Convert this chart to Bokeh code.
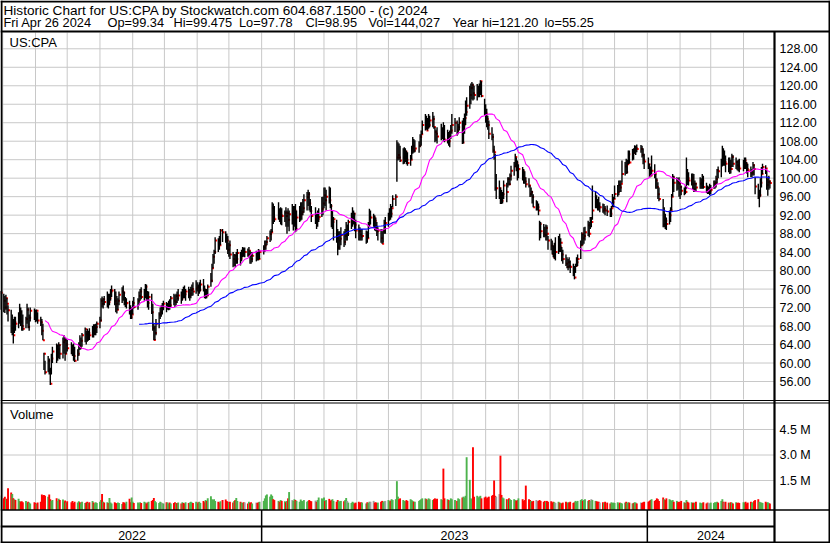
import numpy as np
import pandas as pd
from bokeh.plotting import figure
from bokeh.models import Range1d, ColumnDataSource
from bokeh.core.properties import value
from bokeh.embed import file_html
from bokeh.resources import INLINE

# ---------------- data ----------------
FIRST_DAY = "2022-04-29"
LAST_DAY = "2024-04-26"
HOLIDAYS = ["2022-05-30", "2022-06-20", "2022-07-04", "2022-09-05", "2022-11-24",
            "2022-12-26", "2023-01-02", "2023-01-16", "2023-02-20", "2023-04-07",
            "2023-05-29", "2023-06-19", "2023-07-04", "2023-09-04", "2023-11-23",
            "2023-12-25", "2024-01-01", "2024-01-15", "2024-02-19", "2024-03-29"]

HIGH = [
    75.6, 75.0, 74.5, 74.8, 74.0, 72.5, 71.5, 70.5, 69.5, 70.0,
    70.0, 71.0, 72.8, 72.0, 71.4, 70.5, 70.0, 72.8, 72.0, 70.5,
    72.0, 71.8, 71.5, 71.6, 71.0, 70.0, 69.5, 68.5, 62.2, 60.5,
    61.5, 61.0, 59.0, 62.0, 63.5, 64.2, 64.0, 64.5, 64.0, 65.5,
    66.0, 65.5, 65.3, 65.0, 64.5, 64.0, 64.2, 63.5, 63.0, 64.5,
    66.0, 65.5, 66.5, 67.7, 67.0, 67.4, 67.0, 67.5, 68.0, 68.4,
    68.4, 68.5, 69.0, 70.0, 74.0, 74.4, 74.0, 74.5, 75.5, 75.0,
    75.0, 76.0, 76.8, 76.0, 75.5, 74.5, 74.0, 75.5, 76.4, 76.8,
    75.5, 74.3, 74.0, 73.5, 72.5, 72.0, 73.5, 74.3, 74.0, 75.5,
    76.0, 76.4, 76.0, 77.1, 77.0, 75.6, 75.5, 75.0, 72.8, 68.5,
    68.0, 69.5, 71.0, 72.0, 72.5, 73.0, 73.5, 73.2, 73.0, 73.5,
    73.8, 74.5, 75.0, 74.8, 75.0, 75.5, 76.0, 75.5, 76.0, 76.5,
    76.8, 76.0, 76.5, 76.0, 76.5, 77.0, 77.5, 77.9, 77.5, 77.0,
    77.5, 78.0, 78.2, 76.8, 76.0, 76.0, 77.0, 79.5, 81.5, 83.6,
    84.5, 87.2, 87.0, 87.5, 89.0, 89.0, 88.5, 88.0, 87.5, 86.0,
    86.5, 84.0, 83.6, 83.5, 84.0, 84.7, 84.0, 84.5, 85.1, 85.0,
    85.0, 84.8, 85.1, 84.3, 84.0, 84.0, 84.3, 84.0, 84.7, 84.5,
    85.5, 86.5, 86.5, 87.5, 88.7, 89.0, 94.8, 94.5, 94.0, 94.8,
    93.5, 93.7, 93.5, 93.0, 93.7, 93.0, 93.5, 93.0, 94.4, 94.0,
    94.0, 94.4, 93.0, 94.0, 94.8, 94.8, 95.5, 96.5, 97.0, 97.5,
    97.0, 95.5, 94.0, 93.7, 92.5, 93.0, 93.5, 95.9, 96.0, 98.0,
    98.0, 97.5, 98.2, 98.0, 94.4, 93.0, 91.6, 91.0, 89.0, 88.5,
    88.5, 89.4, 88.5, 89.0, 90.5, 90.0, 91.0, 92.5, 93.7, 93.0,
    92.5, 91.0, 90.0, 89.4, 89.0, 89.0, 88.7, 88.5, 90.5, 93.4,
    93.0, 92.3, 92.0, 91.5, 90.5, 89.4, 89.0, 88.5, 89.0, 91.0,
    91.6, 92.5, 93.5, 94.4, 94.0, 96.3, 96.5, 108.2, 107.8, 107.5,
    107.0, 106.5, 106.7, 106.5, 106.0, 105.6, 105.0, 107.0, 108.9, 108.5,
    108.2, 108.0, 109.5, 110.3, 112.5, 113.9, 113.5, 113.0, 113.9, 113.5,
    114.3, 113.5, 111.0, 110.5, 111.0, 111.8, 111.0, 112.1, 111.5, 110.5,
    110.0, 110.3, 111.5, 113.9, 113.0, 112.5, 111.8, 113.2, 112.5, 113.0,
    114.0, 116.8, 117.5, 120.0, 120.5, 120.8, 120.5, 120.0, 120.4, 120.0,
    120.5, 121.2, 121.0, 117.2, 116.0, 115.0, 113.5, 112.5, 111.0, 109.6,
    107.0, 105.3, 100.9, 99.5, 98.0, 97.5, 97.0, 99.5, 99.0, 100.2,
    100.2, 101.0, 102.7, 103.5, 105.3, 104.5, 103.8, 103.0, 102.4, 102.0,
    101.5, 100.2, 100.0, 98.4, 98.0, 97.3, 96.5, 95.2, 95.0, 94.5,
    90.8, 90.5, 90.1, 89.5, 90.0, 89.8, 87.5, 86.9, 86.5, 85.5,
    86.0, 87.2, 87.5, 88.0, 87.0, 85.1, 84.5, 83.5, 82.9, 82.5,
    82.9, 82.2, 81.5, 81.0, 81.5, 82.9, 83.5, 86.5, 88.3, 88.0,
    89.4, 89.5, 90.8, 90.5, 91.6, 91.6, 98.4, 97.0, 96.3, 95.5,
    96.0, 94.8, 94.5, 94.4, 94.0, 94.1, 93.5, 94.0, 96.6, 96.0,
    98.4, 98.5, 99.5, 99.5, 99.5, 103.8, 103.5, 104.2, 104.0, 106.0,
    106.0, 106.3, 106.5, 107.1, 107.0, 107.3, 107.2, 107.0, 106.5, 105.3,
    104.5, 103.1, 102.5, 104.9, 103.0, 100.9, 100.0, 99.1, 98.0, 95.5,
    93.7, 92.3, 91.5, 93.0, 93.7, 96.6, 100.9, 100.5, 100.2, 100.0,
    100.2, 99.5, 98.4, 98.0, 98.4, 104.5, 102.0, 101.3, 101.0, 101.0,
    100.9, 99.5, 99.0, 100.2, 100.0, 100.9, 100.5, 99.0, 98.4, 98.2,
    98.8, 98.5, 99.5, 99.5, 100.5, 102.0, 102.5, 104.2, 107.0, 106.5,
    106.0, 104.9, 104.5, 104.5, 104.0, 105.3, 105.0, 104.5, 103.8, 104.0,
    104.2, 104.0, 104.5, 104.5, 103.5, 103.1, 102.5, 102.0, 103.5, 103.0,
    100.2, 98.8, 97.5, 100.0, 102.4, 103.1, 102.8, 101.7, 100.0, 100.5,
    99.475]

LOW = [
    71.5, 71.0, 70.8, 71.5, 70.5, 69.0, 66.5, 66.0, 64.2, 66.5,
    67.0, 67.5, 68.5, 68.0, 67.0, 67.0, 67.5, 68.5, 67.5, 67.0,
    69.0, 69.3, 68.8, 69.0, 68.5, 68.0, 66.0, 64.9, 58.5, 57.5,
    58.0, 57.5, 55.25, 57.5, 60.0, 60.0, 60.5, 61.0, 60.8, 61.0,
    62.0, 60.5, 62.0, 62.5, 61.9, 61.5, 60.5, 60.2, 60.5, 61.5,
    62.8, 63.0, 63.5, 64.5, 64.0, 64.6, 64.8, 65.0, 65.5, 65.5,
    66.0, 66.0, 66.5, 67.5, 69.0, 72.0, 71.8, 72.5, 72.0, 71.8,
    72.5, 73.5, 74.3, 72.5, 71.0, 70.7, 71.5, 72.5, 73.0, 73.5,
    72.5, 72.1, 71.8, 70.5, 69.5, 69.5, 70.5, 71.8, 71.5, 72.5,
    73.5, 73.8, 73.5, 74.0, 73.5, 72.0, 71.5, 70.6, 67.0, 64.9,
    65.0, 66.0, 67.5, 69.5, 70.0, 70.5, 71.4, 71.0, 71.5, 71.4,
    71.5, 72.0, 72.5, 72.1, 72.5, 73.0, 73.5, 72.8, 73.5, 74.0,
    74.0, 73.5, 74.0, 73.5, 74.0, 74.5, 74.6, 75.0, 75.5, 74.5,
    75.0, 75.5, 75.5, 74.0, 73.9, 74.0, 74.5, 76.5, 77.5, 80.5,
    81.5, 83.6, 84.0, 84.5, 85.5, 86.2, 86.0, 84.5, 83.6, 83.0,
    82.5, 80.7, 81.0, 80.7, 81.5, 81.5, 81.1, 82.0, 82.9, 83.0,
    82.9, 83.0, 83.0, 81.5, 81.5, 81.8, 82.0, 82.2, 82.2, 82.5,
    83.5, 84.0, 84.5, 85.5, 86.2, 86.5, 88.3, 90.1, 90.5, 91.0,
    90.5, 90.0, 89.8, 90.5, 89.5, 88.0, 89.5, 88.5, 90.0, 88.7,
    89.5, 88.3, 88.5, 90.5, 90.8, 91.0, 92.0, 92.5, 93.0, 94.0,
    93.0, 92.6, 90.5, 90.1, 89.0, 89.5, 90.5, 91.6, 92.0, 93.5,
    94.0, 93.0, 94.5, 93.5, 89.4, 89.0, 86.5, 86.0, 83.3, 84.5,
    84.5, 85.5, 85.1, 85.5, 86.5, 86.5, 87.5, 89.0, 89.5, 90.0,
    88.5, 87.0, 86.5, 86.5, 86.5, 86.5, 85.8, 86.0, 87.0, 89.4,
    90.0, 89.5, 88.7, 88.5, 87.5, 86.5, 86.0, 85.8, 86.0, 88.0,
    88.0, 89.5, 90.8, 91.0, 91.5, 93.7, 94.0, 99.2, 103.8, 104.0,
    103.5, 103.0, 103.1, 103.5, 103.0, 102.7, 102.7, 104.0, 105.3, 105.5,
    105.6, 105.5, 106.7, 107.0, 109.5, 110.3, 110.5, 110.3, 110.7, 111.0,
    111.0, 110.7, 107.8, 108.0, 107.5, 108.2, 108.5, 108.0, 107.8, 107.5,
    107.0, 106.7, 108.5, 109.6, 110.0, 109.2, 109.5, 110.3, 107.4, 107.5,
    109.6, 111.5, 113.5, 115.0, 116.0, 117.0, 116.8, 117.0, 116.8, 117.5,
    117.5, 118.0, 117.5, 113.6, 112.0, 111.0, 110.5, 108.5, 108.2, 105.5,
    104.0, 97.3, 95.5, 95.5, 94.4, 94.4, 94.5, 95.5, 94.8, 98.0,
    98.4, 98.5, 99.5, 100.5, 102.4, 101.5, 99.5, 100.0, 99.5, 98.8,
    98.8, 98.0, 98.0, 95.9, 96.0, 94.5, 93.7, 93.0, 93.0, 92.0,
    86.5, 87.0, 87.2, 87.2, 86.5, 86.5, 84.5, 84.4, 83.5, 82.9,
    82.5, 82.2, 83.6, 84.0, 84.0, 82.0, 81.5, 81.0, 80.5, 80.1,
    80.5, 79.5, 78.8, 78.1, 79.5, 80.8, 81.0, 82.5, 85.4, 85.5,
    85.8, 86.5, 87.5, 87.2, 89.0, 89.4, 91.0, 93.5, 93.5, 93.0,
    93.0, 92.6, 92.5, 92.3, 92.0, 91.8, 91.6, 91.6, 93.7, 93.7,
    95.5, 96.0, 96.3, 97.0, 97.0, 99.0, 100.6, 100.9, 101.0, 103.0,
    103.1, 103.8, 104.0, 105.3, 105.0, 105.6, 105.5, 104.5, 103.0, 102.0,
    102.0, 100.2, 100.2, 100.6, 100.0, 97.7, 97.7, 95.5, 95.0, 89.4,
    89.4, 89.0, 88.8, 90.0, 90.5, 93.0, 96.0, 97.0, 97.3, 97.5,
    96.0, 95.5, 96.3, 96.3, 96.5, 97.7, 98.5, 98.4, 98.4, 97.5,
    97.0, 97.0, 97.2, 97.7, 97.7, 97.7, 97.7, 96.8, 96.6, 96.6,
    96.3, 96.5, 97.7, 97.7, 98.0, 98.8, 100.0, 100.2, 102.5, 102.7,
    102.7, 101.3, 101.3, 100.9, 101.0, 102.4, 102.4, 102.0, 101.7, 101.5,
    101.3, 101.5, 102.0, 102.0, 101.0, 100.2, 100.2, 100.2, 100.6, 100.6,
    96.5, 95.5, 93.7, 96.0, 98.0, 100.9, 100.9, 97.5, 96.2, 97.5,
    97.78]

CLOSE = [
    75.2, 73.5, 72.0, 74.0, 72.8, 71.4, 67.5, 68.5, 66.0, 68.8,
    68.5, 70.2, 71.0, 69.0, 68.0, 67.4, 69.5, 71.5, 67.8, 69.8,
    71.3, 70.6, 70.0, 71.3, 69.2, 68.8, 67.0, 64.9, 62.0, 58.0,
    60.5, 58.5, 55.5, 61.0, 62.5, 62.3, 63.0, 63.9, 62.0, 64.5,
    64.9, 62.0, 64.0, 63.2, 62.5, 62.0, 61.5, 60.5, 62.0, 63.8,
    63.3, 64.8, 66.0, 67.3, 66.2, 65.5, 66.5, 66.0, 67.5, 67.0,
    67.5, 67.8, 68.5, 69.2, 73.5, 72.8, 73.8, 73.2, 74.5, 73.2,
    74.0, 75.5, 75.7, 73.5, 72.8, 71.5, 73.5, 74.8, 75.5, 75.2,
    73.0, 72.8, 73.0, 71.0, 69.9, 70.5, 73.0, 72.1, 73.5, 74.5,
    75.5, 74.3, 75.0, 76.5, 74.0, 73.0, 74.3, 71.0, 67.5, 65.0,
    66.5, 68.5, 70.5, 71.0, 72.0, 72.0, 72.8, 72.0, 72.4, 73.0,
    72.5, 74.0, 73.5, 73.2, 74.5, 74.0, 74.6, 73.9, 75.5, 75.0,
    74.9, 75.5, 74.5, 75.0, 75.8, 76.0, 75.5, 76.1, 76.4, 75.5,
    75.8, 77.0, 76.0, 74.5, 75.0, 74.6, 76.5, 77.8, 80.5, 83.0,
    84.0, 86.5, 86.2, 85.5, 88.7, 88.3, 87.0, 86.5, 84.5, 85.5,
    83.5, 82.5, 83.3, 82.2, 82.5, 83.8, 82.6, 83.5, 84.3, 84.0,
    84.0, 83.5, 84.3, 83.2, 82.5, 83.2, 83.2, 83.0, 82.5, 84.0,
    85.0, 85.5, 86.2, 87.0, 87.9, 88.3, 93.5, 91.5, 91.1, 92.0,
    91.5, 92.0, 91.8, 92.5, 91.8, 92.4, 91.0, 92.2, 92.2, 92.7,
    93.0, 89.0, 91.5, 92.0, 92.2, 92.7, 93.5, 95.2, 95.9, 96.5,
    94.5, 92.9, 91.8, 91.8, 91.0, 91.2, 91.6, 93.4, 94.5, 96.3,
    95.2, 96.0, 95.2, 94.0, 89.8, 90.5, 91.1, 87.0, 85.0, 86.5,
    86.9, 87.7, 86.2, 87.5, 87.9, 87.9, 90.5, 90.8, 92.0, 92.3,
    89.9, 88.7, 88.5, 87.8, 87.4, 87.5, 88.0, 87.0, 90.0, 91.5,
    91.5, 91.5, 90.8, 89.5, 88.5, 88.7, 87.0, 85.8, 88.5, 90.3,
    90.3, 91.5, 93.2, 92.3, 93.5, 95.5, 96.0, 104.5, 105.0, 104.5,
    103.8, 104.5, 105.3, 105.7, 104.0, 103.3, 104.0, 106.5, 107.0, 106.0,
    106.4, 107.0, 108.9, 109.5, 111.5, 112.8, 110.3, 111.1, 111.5, 112.5,
    112.8, 111.1, 110.0, 109.6, 109.0, 109.2, 110.0, 108.5, 108.2, 109.0,
    108.0, 110.0, 110.3, 111.5, 112.0, 110.3, 111.0, 112.0, 107.7, 111.5,
    113.0, 114.3, 115.7, 118.0, 119.5, 120.1, 118.4, 118.0, 118.4, 118.8,
    119.0, 121.0, 117.8, 114.7, 114.0, 112.8, 111.5, 109.6, 108.9, 106.0,
    105.6, 97.8, 97.8, 97.8, 95.5, 95.1, 96.5, 98.4, 97.0, 99.8,
    98.7, 100.5, 101.6, 102.5, 104.6, 103.3, 101.9, 102.0, 101.5, 100.0,
    99.3, 98.7, 98.4, 96.6, 97.0, 95.9, 93.7, 93.7, 93.7, 93.0,
    90.1, 88.5, 88.0, 87.7, 89.2, 88.0, 86.5, 85.4, 83.6, 82.9,
    84.0, 84.0, 85.6, 85.2, 86.0, 83.5, 82.5, 81.5, 80.8, 81.8,
    81.0, 80.8, 79.7, 78.5, 81.0, 81.8, 82.5, 85.5, 88.0, 87.0,
    87.5, 88.3, 89.8, 88.0, 90.5, 90.5, 93.0, 94.8, 94.4, 94.0,
    93.7, 93.7, 93.0, 93.4, 93.0, 92.8, 92.3, 93.5, 94.8, 95.5,
    96.6, 97.0, 98.5, 98.0, 98.8, 100.9, 102.5, 101.3, 103.0, 105.2,
    103.4, 105.9, 105.5, 105.9, 106.5, 106.3, 106.3, 105.0, 104.0, 103.6,
    103.0, 100.9, 100.6, 101.6, 101.0, 99.5, 98.1, 96.5, 95.5, 90.0,
    91.0, 90.8, 90.1, 92.0, 93.0, 96.0, 100.2, 99.0, 99.5, 99.0,
    98.8, 98.1, 97.3, 97.5, 97.0, 100.2, 100.0, 99.5, 100.0, 98.8,
    97.7, 98.8, 98.0, 98.8, 99.0, 99.5, 98.1, 97.5, 97.3, 97.3,
    97.3, 97.5, 98.8, 99.0, 99.8, 101.7, 101.5, 103.1, 104.5, 103.5,
    103.5, 103.1, 102.1, 102.5, 102.0, 104.6, 103.1, 103.5, 102.8, 102.5,
    102.1, 103.0, 103.8, 103.1, 102.0, 101.7, 101.0, 101.2, 102.8, 102.0,
    98.2, 96.0, 96.3, 99.0, 100.9, 102.4, 102.1, 98.5, 99.1, 99.34,
    98.95]

VOLUME_M = [
    0.62, 0.45, 0.55, 0.40, 0.43, 1.05, 0.80, 0.70, 0.45, 0.40,
    0.35, 0.42, 0.30, 0.25, 0.28, 0.22, 0.30, 0.18, 0.25, 0.20,
    0.15, 0.22, 0.18, 0.12, 0.20, 0.25, 0.68, 0.62, 0.65, 0.60,
    0.55, 0.68, 0.40, 0.30, 0.35, 0.45, 0.30, 0.42, 0.35, 0.38,
    0.25, 0.32, 0.20, 0.28, 0.22, 0.30, 0.18, 0.25, 0.20, 0.28,
    0.22, 0.15, 0.25, 0.18, 0.20, 0.25, 0.18, 0.22, 0.30, 0.20,
    0.15, 0.22, 0.18, 0.25, 0.35, 0.70, 0.25, 0.20, 0.22, 0.18,
    0.47, 0.20, 0.15, 0.22, 0.18, 0.15, 0.20, 0.18, 0.12, 0.22,
    0.20, 0.15, 0.25, 0.43, 0.22, 0.50, 0.25, 0.18, 0.20, 0.15,
    0.22, 0.18, 0.25, 0.20, 0.15, 0.20, 0.25, 0.30, 0.35, 0.47,
    0.30, 0.22, 0.18, 0.25, 0.20, 0.18, 0.15, 0.22, 0.20, 0.15,
    0.20, 0.15, 0.18, 0.22, 0.15, 0.18, 0.20, 0.15, 0.22, 0.18,
    0.15, 0.22, 0.18, 0.20, 0.25, 0.20, 0.18, 0.25, 0.15, 0.22,
    0.25, 0.18, 0.30, 0.22, 0.35, 0.30, 0.45, 0.57, 0.40, 0.35,
    0.40, 0.30, 0.25, 0.20, 0.28, 0.35, 0.38, 0.30, 0.25, 0.20,
    0.25, 0.20, 0.30, 0.35, 0.47, 0.30, 0.25, 0.20, 0.18, 0.22,
    0.20, 0.15, 0.25, 0.18, 0.22, 0.15, 0.20, 0.18, 0.22, 0.25,
    0.30, 0.45, 0.62, 0.68, 0.55, 0.68, 0.60, 0.40, 0.35, 0.30,
    0.25, 0.35, 0.30, 0.28, 0.22, 0.30, 0.45, 0.82, 0.35, 0.30,
    0.40, 0.35, 0.30, 0.25, 0.38, 0.30, 0.28, 0.35, 0.25, 0.30,
    0.35, 0.30, 0.28, 0.32, 0.25, 0.35, 0.50, 0.45, 0.40, 0.50,
    0.30, 0.35, 0.42, 0.30, 0.35, 0.40, 0.30, 0.25, 0.35, 0.30,
    0.25, 0.30, 0.28, 0.35, 0.47, 0.30, 0.20, 0.18, 0.25, 0.20,
    0.15, 0.20, 0.25, 0.18, 0.22, 0.20, 0.15, 0.22, 0.18, 0.25,
    0.25, 0.30, 0.20, 0.22, 0.18, 0.20, 0.25, 0.30, 0.22, 0.28,
    0.30, 0.35, 0.28, 0.32, 0.40, 0.35, 0.40, 1.46, 0.55, 0.40,
    0.45, 0.35, 0.30, 0.28, 0.35, 0.30, 0.40, 0.35, 0.30, 0.25,
    0.25, 0.30, 0.35, 0.40, 0.45, 0.45, 0.40, 0.35, 0.45, 0.40,
    0.35, 0.40, 0.45, 0.38, 0.42, 0.40, 0.35, 2.20, 0.45, 0.40,
    0.35, 0.30, 0.45, 0.40, 0.35, 0.30, 0.45, 0.40, 0.50, 0.55,
    0.50, 0.60, 2.87, 1.54, 0.45, 0.40, 3.45, 0.55, 0.60, 0.50,
    0.55, 0.60, 0.45, 0.50, 0.55, 0.45, 0.50, 0.55, 0.60, 0.65,
    1.50, 0.60, 0.55, 0.70, 2.96, 0.65, 0.50, 0.45, 0.40, 0.35,
    0.45, 0.40, 0.35, 0.40, 0.35, 0.30, 0.35, 0.45, 0.40, 0.30,
    0.35, 1.20, 0.40, 0.35, 0.30, 0.25, 0.30, 0.35, 0.28, 0.30,
    0.35, 0.30, 0.25, 0.30, 0.22, 0.30, 0.25, 0.28, 0.20, 0.25,
    0.22, 0.18, 0.25, 0.20, 0.18, 0.15, 0.20, 0.25, 0.18, 0.22,
    0.20, 0.25, 0.18, 0.22, 0.30, 0.25, 0.30, 0.35, 0.40, 0.30,
    0.35, 0.40, 0.30, 0.35, 0.30, 0.40, 0.35, 0.30, 0.28, 0.25,
    0.25, 0.20, 0.22, 0.18, 0.25, 0.20, 0.15, 0.22, 0.18, 0.20,
    0.18, 0.22, 0.15, 0.20, 0.18, 0.15, 0.20, 0.25, 0.18, 0.22,
    0.20, 0.15, 0.18, 0.22, 0.20, 0.15, 0.20, 0.18, 0.22, 0.25,
    0.25, 0.30, 0.35, 0.40, 0.30, 0.35, 0.45, 0.40, 0.30, 0.50,
    0.40, 0.35, 0.45, 0.40, 0.35, 0.30, 0.35, 0.25, 0.30, 0.22,
    0.25, 0.20, 0.30, 0.22, 0.18, 0.35, 0.25, 0.20, 0.22, 0.18,
    0.20, 0.18, 0.25, 0.20, 0.15, 0.18, 0.22, 0.15, 0.20, 0.18,
    0.15, 0.20, 0.18, 0.22, 0.20, 0.25, 0.20, 0.30, 0.40, 0.25,
    0.22, 0.25, 0.20, 0.18, 0.22, 0.20, 0.15, 0.22, 0.18, 0.20,
    0.18, 0.22, 0.20, 0.25, 0.15, 0.20, 0.25, 0.18, 0.22, 0.30,
    0.35, 0.40, 0.25, 0.22, 0.20, 0.18, 0.25, 0.20, 0.22, 0.18,
    0.144]

MA_FAST, MA_SLOW = 30, 90
PRICE_TICKS = [56, 60, 64, 68, 72, 76, 80, 84, 88, 92, 96, 100, 104, 108, 112, 116, 120, 124, 128]
VOLUME_TICKS = [1.5, 3.0, 4.5]
YEARS = ["2022", "2023", "2024"]
HEADER_1 = "Historic Chart for US:CPA by Stockwatch.com 604.687.1500 - (c) 2024"
HEADER_2 = ["Fri Apr 26 2024", "Op=99.34", "Hi=99.475", "Lo=97.78", "Cl=98.95",
            "Vol=144,027", "Year hi=121.20", "lo=55.25"]
SYMBOL = "US:CPA"

# ---------------- layout (reference pixel geometry) ----------------
REF_W, REF_H = 830, 543
W, H = 830, 543
DAY = 86400000.0
T0 = pd.Timestamp(FIRST_DAY).value / 1e6      # ms
X_AT_T0, PX_PER_DAY = 0.13, 1.0567
PLOT_L, PLOT_R = 2.0, 774.0
HEAD_Y = 31.0
PRICE_TOP, PRICE_BOT = 32.0, 400.0
VOL_TOP, VOL_BOT = 402.5, 509.5
ROW_Y = 526.0
Y56, PX_PER_PT = 381.0, 4.621
VOL0_Y, PX_PER_M = 505.5, 17.0
HEAD2_X = [3, 107, 173, 238.5, 305, 368, 452, 544]
FONT = value("Liberation Sans")


def t_at_px(px):
    return T0 + (px - X_AT_T0) / PX_PER_DAY * DAY


dates = pd.bdate_range(FIRST_DAY, LAST_DAY, freq="C", holidays=HOLIDAYS)
t_ms = dates.values.astype("datetime64[ms]").astype(np.int64).astype(float)
close = pd.Series(CLOSE)
prev = close.shift(1).fillna(close.iloc[0] - 1)
vcolor = np.where(close > prev, "#4db34d", np.where(close < prev, "#ff0000", "#a0a0a0"))
ma_fast = close.rolling(MA_FAST).mean()
ma_slow = close.rolling(MA_SLOW).mean()

src = ColumnDataSource(dict(t=t_ms, tick=t_ms + 1.0 / PX_PER_DAY * DAY, high=HIGH, low=LOW,
                            close=CLOSE, vol=VOLUME_M, vcolor=vcolor,
                            maf=ma_fast.values, mas=ma_slow.values))

vol_bottom = -(VOL_BOT - VOL0_Y) / PX_PER_M
p = figure(width=W, height=H, toolbar_location=None, output_backend="svg",
           x_range=Range1d(t_at_px(0), t_at_px(REF_W)),
           y_range=Range1d(56 - (REF_H - Y56) / PX_PER_PT, 56 + Y56 / PX_PER_PT),
           x_axis_location=None, y_axis_location=None, min_border=0,
           outline_line_color=None, background_fill_color="white", border_fill_color="white")
p.grid.visible = False
p.extra_x_ranges = {"px": Range1d(0, REF_W)}
p.extra_y_ranges = {"px": Range1d(REF_H, 0),
                    "vol": Range1d(-(REF_H - VOL0_Y) / PX_PER_M, VOL0_Y / PX_PER_M)}

GRID = "#c8c8c8"
# month grid lines (calendar month starts)
months = pd.date_range("2022-05-01", "2024-04-01", freq="MS")
m_ms = months.values.astype("datetime64[ms]").astype(np.int64).astype(float)
for y0, y1 in [(PRICE_TOP, PRICE_BOT - 1), (VOL_TOP + 1, VOL_BOT - 1)]:
    p.segment(x0=m_ms, x1=m_ms, y0=[y0] * len(m_ms), y1=[y1] * len(m_ms),
              y_range_name="px", line_color=GRID, line_width=1)
p.segment(x0=[PLOT_L] * len(PRICE_TICKS), x1=[PLOT_R] * len(PRICE_TICKS),
          y0=PRICE_TICKS, y1=PRICE_TICKS, x_range_name="px", line_color=GRID, line_width=1)
p.segment(x0=[PLOT_L] * len(VOLUME_TICKS), x1=[PLOT_R] * len(VOLUME_TICKS),
          y0=VOLUME_TICKS, y1=VOLUME_TICKS, x_range_name="px", y_range_name="vol",
          line_color=GRID, line_width=1)

# volume bars
p.vbar(x="t", width=1.9 / PX_PER_DAY * DAY, bottom=vol_bottom, top="vol", source=src,
       y_range_name="vol", fill_color="vcolor", line_color=None)

# close ticks (red), then high-low bars (black)
p.scatter(x="tick", y="close", source=src, marker="square", size=2.0,
          fill_color="#ff0000", line_color=None)
p.segment(x0="t", y0="low", x1="t", y1="high", source=src, line_color="black", line_width=1.4)

# moving averages
p.line(x="t", y="maf", source=src, line_color="#ff00ff", line_width=1.1)
p.line(x="t", y="mas", source=src, line_color="#0000ff", line_width=1.1)

# frame / separator lines
borders = [
    (0, 1, REF_W, 1, 2), (0, REF_H - 1, REF_W, REF_H - 1, 2),
    (1, 0, 1, REF_H, 2), (REF_W - 1, 0, REF_W - 1, REF_H, 2),
    (0, HEAD_Y, REF_W, HEAD_Y, 2),
    (0, PRICE_BOT, REF_W, PRICE_BOT, 1.2), (0, VOL_TOP, REF_W, VOL_TOP, 1.2),
    (0, VOL_BOT, REF_W, VOL_BOT, 1.6), (0, ROW_Y, PLOT_R, ROW_Y, 2),
    (PLOT_R, HEAD_Y, PLOT_R, REF_H, 2.2),
]
p.segment(x0=[b[0] for b in borders], y0=[b[1] for b in borders],
          x1=[b[2] for b in borders], y1=[b[3] for b in borders],
          line_width=[b[4] for b in borders], line_color="black",
          x_range_name="px", y_range_name="px")

# year separators
ystarts = pd.to_datetime(["2023-01-01", "2024-01-01"])
ys_ms = ystarts.values.astype("datetime64[ms]").astype(np.int64).astype(float)
p.segment(x0=ys_ms, x1=ys_ms, y0=[VOL_BOT] * 2, y1=[REF_H] * 2, y_range_name="px",
          line_color="black", line_width=1.5)
bounds = [t_at_px(PLOT_L)] + list(ys_ms) + [t_at_px(PLOT_R)]
ymid = [(bounds[i] + bounds[i + 1]) / 2 for i in range(3)]
p.text(x=ymid, y=[534.5] * 3, text=YEARS, y_range_name="px", text_align="center",
       text_baseline="middle", text_font=FONT, text_font_size=value("12.5px"),
       text_color="black")

# header texts (vertically centred on the reference cap-height centres)
p.text(x=[3], y=[9.5], text=[HEADER_1], x_range_name="px", y_range_name="px",
       text_baseline="middle", text_font=FONT, text_font_size=value("13.6px"),
       text_color="black")
p.text(x=HEAD2_X, y=[22] * len(HEADER_2), text=HEADER_2, x_range_name="px", y_range_name="px",
       text_baseline="middle", text_font=FONT, text_font_size=value("12.8px"),
       text_color="black")
p.text(x=[9], y=[42.2], text=[SYMBOL], x_range_name="px", y_range_name="px",
       text_baseline="middle", text_font=FONT, text_font_size=value("13px"),
       text_color="black")
p.text(x=[9.5], y=[413.5], text=["Volume"], x_range_name="px", y_range_name="px",
       text_baseline="middle", text_font=FONT, text_font_size=value("13px"),
       text_color="black")

# right-hand scale labels
p.text(x=[779] * len(PRICE_TICKS), y=PRICE_TICKS, text=[f"{v:.2f}" for v in PRICE_TICKS],
       x_range_name="px", text_baseline="middle", text_font=FONT,
       text_font_size=value("12.5px"), text_color="black")
p.text(x=[779] * len(VOLUME_TICKS), y=VOLUME_TICKS, text=[f"{v:.1f} M" for v in VOLUME_TICKS],
       x_range_name="px", y_range_name="vol", text_baseline="middle", text_font=FONT,
       text_font_size=value("12.5px"), text_color="black")

open("out.html", "w").write(file_html(p, INLINE))
